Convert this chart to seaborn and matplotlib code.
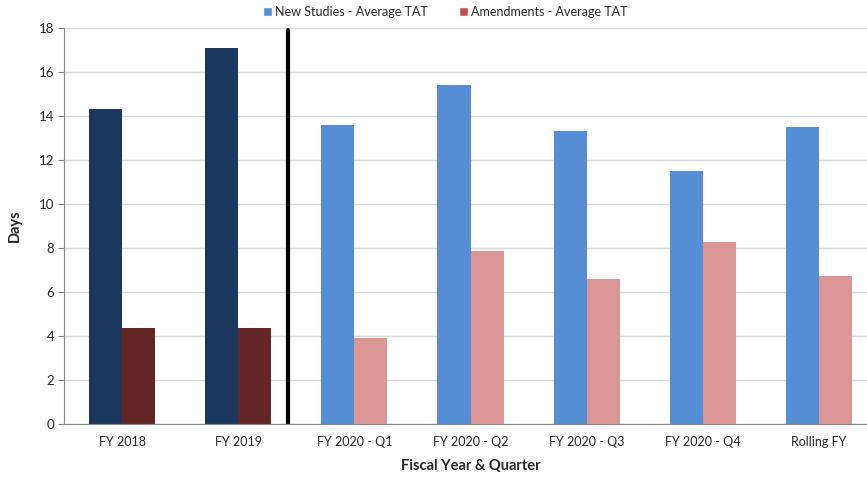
import pandas as pd
import matplotlib
matplotlib.use("Agg")
import matplotlib.pyplot as plt
import seaborn as sns
from matplotlib.patches import Patch

# Data
periods = ["FY 2018", "FY 2019", "FY 2020 - Q1", "FY 2020 - Q2",
           "FY 2020 - Q3", "FY 2020 - Q4", "Rolling FY"]
new_studies = [14.3, 17.1, 13.6, 15.4, 13.3, 11.5, 13.5]
amendments = [4.35, 4.35, 3.9, 7.85, 6.6, 8.25, 6.75]
series_names = ["New Studies - Average TAT", "Amendments - Average TAT"]

df = pd.DataFrame({
    "Period": periods * 2,
    "Days": new_studies + amendments,
    "Series": [series_names[0]] * len(periods) + [series_names[1]] * len(periods),
})

sns.set_style("white")
plt.rcParams["font.family"] = ["Lato", "DejaVu Sans"]

light = ["#558ED5", "#D99694"]
dark = ["#1B375E", "#632526"]
legend_colors = ["#558ED5", "#C0504D"]

fig = plt.figure(figsize=(8.67, 4.78), dpi=100)
# plot area runs a little past the right edge, like the cropped original
ax = fig.add_axes([64 / 867, 54 / 478, 813 / 867, 396 / 478])

sns.barplot(data=df, x="Period", y="Days", hue="Series", order=periods,
            hue_order=series_names, palette=light, width=0.57,
            saturation=1, linewidth=0, ax=ax, legend=False)

# older fiscal years drawn in darker shades
for cont, c in zip(ax.containers, dark):
    for p in list(cont)[:2]:
        p.set_facecolor(c)

ax.axvline(1.43, ymin=0, ymax=0.995, color="black", linewidth=3)

ax.set_ylim(0, 18)
ax.set_xlim(-0.5, 6.5)
ax.set_yticks(range(0, 19, 2))
ax.yaxis.grid(True, color="#D9D9D9", linewidth=1)
ax.set_axisbelow(True)
for s in ["top", "right"]:
    ax.spines[s].set_visible(False)
ax.spines["left"].set_color("#868686")
ax.spines["bottom"].set_color("#868686")
ax.tick_params(axis="y", left=True, length=4, color="#868686", labelsize=9.5, pad=3)
ax.tick_params(axis="x", bottom=False, labelsize=9, pad=5)

ax.set_xlabel("Fiscal Year & Quarter", fontsize=10.5, fontweight="bold", labelpad=8)
ax.set_ylabel("Days", fontsize=10.5, fontweight="bold", labelpad=12)

handles = [Patch(facecolor=c, label=n) for c, n in zip(legend_colors, series_names)]
fig.legend(handles=handles, loc="center", bbox_to_anchor=(445 / 867, 1 - 12 / 478),
           ncol=2, frameon=False, fontsize=9, handlelength=0.7, handleheight=0.7,
           handletextpad=0.25, columnspacing=2.5)

fig.savefig("out.png", dpi=100)
